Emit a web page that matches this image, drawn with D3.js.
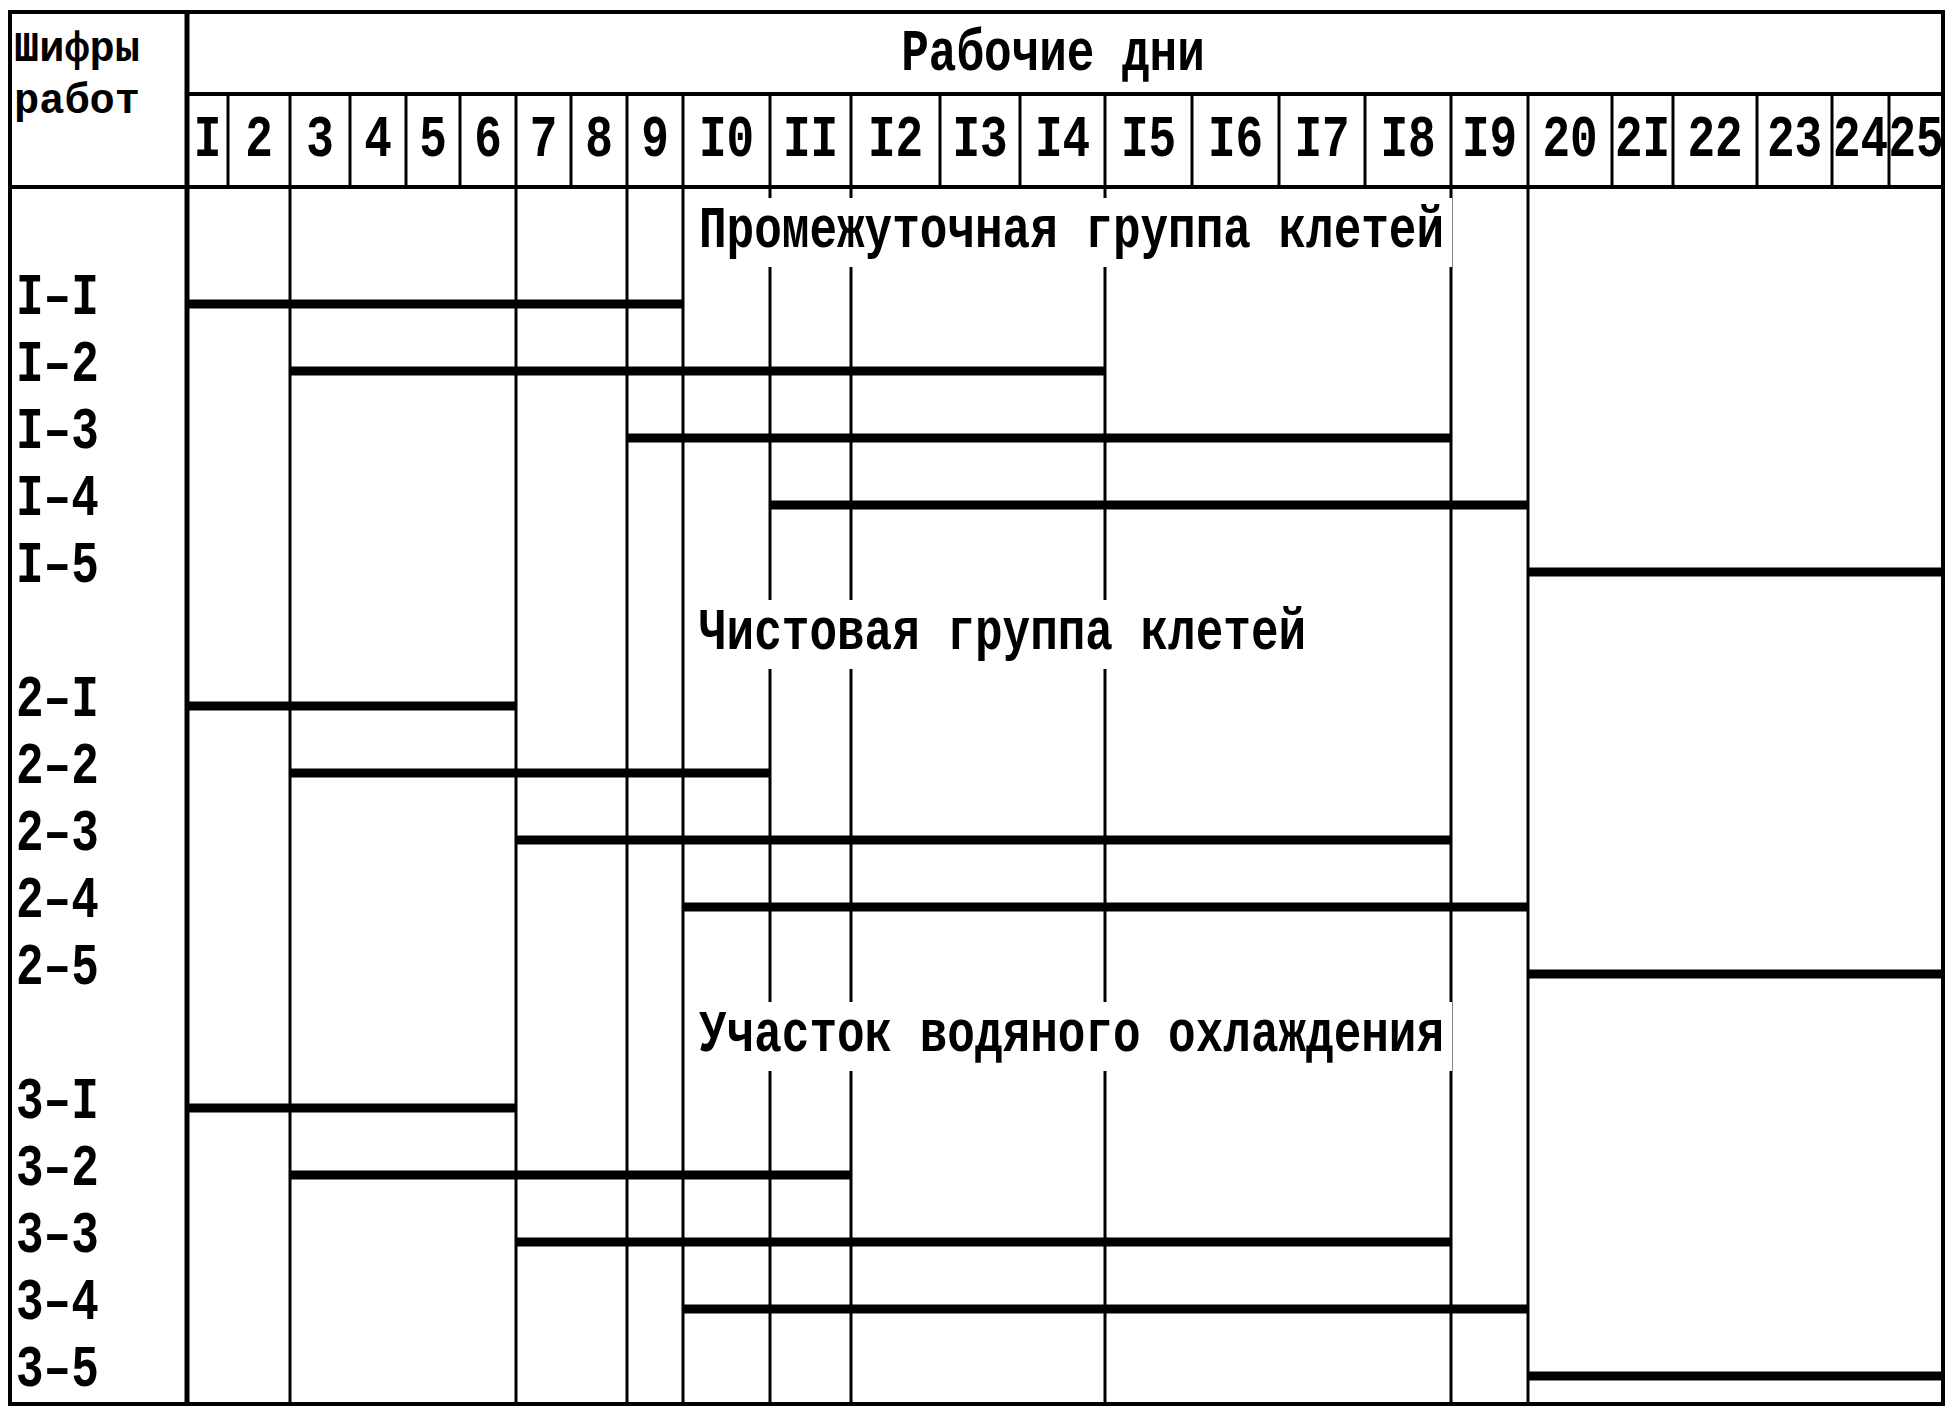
<!DOCTYPE html>
<html>
<head>
<meta charset="utf-8">
<script src="https://cdn.jsdelivr.net/npm/d3@7"></script>
<style>
  body { margin: 0; background: #fff; }
  text { font-family: "Liberation Mono", "Courier New", monospace; font-weight: bold; fill: #000; }
</style>
</head>
<body>
<div id="chart"></div>
<script>
// Page size
var w = 1957;
var h = 1417;

// Data: day labels, groups and tasks
var days = ["I", "2", "3", "4", "5", "6", "7", "8", "9", "I0", "II", "I2", "I3", "I4",
            "I5", "I6", "I7", "I8", "I9", "20", "2I", "22", "23", "24", "25"];
var groups = ["Промежуточная группа клетей", "Чистовая группа клетей", "Участок водяного охлаждения"];
var taskCodes = ["I–I", "I–2", "I–3", "I–4", "I–5",
                 "2–I", "2–2", "2–3", "2–4", "2–5",
                 "3–I", "3–2", "3–3", "3–4", "3–5"];
var taskGroup = [0, 0, 0, 0, 0, 1, 1, 1, 1, 1, 2, 2, 2, 2, 2];
var taskStart = [0, 2, 8, 10, 19, 0, 2, 6, 9, 19, 0, 2, 6, 9, 19];
var taskEnd   = [9, 14, 18, 19, 25, 6, 10, 18, 19, 25, 6, 11, 18, 19, 25];

// Layout: the day columns are of uneven width, as on the typed original
var dayEdges = [187, 228, 290, 350, 406, 460, 516, 571, 627, 683, 770, 851, 940, 1020,
                1105, 1192, 1279, 1365, 1451, 1528, 1612, 1673, 1757, 1832, 1889, 1943];
var frameLeft = 10, frameRight = 1943, frameTop = 12, midLine = 94, headBottom = 187, frameBottom = 1404;
var fontSize = 46, stretch = 1.3;

// Rows: a title row, then the tasks of that group
var rows = [];
groups.forEach(function (g, gi) {
    rows.push("g" + gi);
    taskCodes.forEach(function (c, i) { if (taskGroup[i] === gi) rows.push(c); });
});

// Scales
var xScale = d3.scaleLinear()
    .domain(d3.range(dayEdges.length))
    .range(dayEdges);

var yScale = d3.scalePoint()
    .domain(rows)
    .range([231, 1370]);

var svg = d3.select("#chart")
    .append("svg")
    .attr("width", w)
    .attr("height", h);

// Text helper: typewriter letters are taller than Courier, so stretch vertically
function label(parent, x, y, str, anchor, sy, size) {
    var g = parent.append("g").attr("transform", "translate(" + x + "," + y + ")");
    g.append("text")
        .attr("transform", "scale(1," + (sy || stretch) + ")")
        .attr("text-anchor", anchor || "start")
        .attr("dominant-baseline", "central")
        .style("font-size", (size || fontSize) + "px")
        .text(str);
    return g;
}

// Vertical lines in the body at every start/end day
var marks = Array.from(new Set(taskStart.concat(taskEnd))).sort(d3.ascending);
svg.selectAll(".vline")
    .data(marks)
    .enter()
    .append("line")
    .attr("class", "vline")
    .attr("x1", function (d) { return xScale(d); })
    .attr("x2", function (d) { return xScale(d); })
    .attr("y1", headBottom)
    .attr("y2", frameBottom)
    .attr("stroke", "#000")
    .attr("stroke-width", 3);

// Group titles, with white boxes that break the grid lines
groups.forEach(function (g, gi) {
    var y = yScale("g" + gi);
    var t = label(svg, xScale(9) + 16, y, g);
    var bb = t.node().getBBox();
    t.insert("rect", "text")
        .attr("x", bb.x - 8)
        .attr("y", -33)
        .attr("width", bb.width + 16)
        .attr("height", 69)
        .attr("fill", "#fff");
});

// Task bars
svg.selectAll(".bar")
    .data(taskCodes)
    .enter()
    .append("line")
    .attr("class", "bar")
    .attr("x1", function (d, i) { return xScale(taskStart[i]); })
    .attr("x2", function (d, i) { return xScale(taskEnd[i]); })
    .attr("y1", function (d) { return yScale(d) + 6; })
    .attr("y2", function (d) { return yScale(d) + 6; })
    .attr("stroke", "#000")
    .attr("stroke-width", 9);

// Task codes
taskCodes.forEach(function (c) {
    label(svg, 16, yScale(c), c);
});

// Header: day separators and numbers
svg.selectAll(".dayline")
    .data(d3.range(1, days.length))
    .enter()
    .append("line")
    .attr("class", "dayline")
    .attr("x1", function (d) { return xScale(d); })
    .attr("x2", function (d) { return xScale(d); })
    .attr("y1", midLine)
    .attr("y2", headBottom)
    .attr("stroke", "#000")
    .attr("stroke-width", 3);

days.forEach(function (d, i) {
    label(svg, (xScale(i) + xScale(i + 1)) / 2, 140, d, "middle");
});

label(svg, (xScale(0) + xScale(days.length)) / 2 - 12, 54, "Рабочие дни", "middle");
label(svg, 14, 50, "Шифры", "start", 1.0, 42);
label(svg, 14, 102, "работ", "start", 1.0, 42);

// Frame
var frame = svg.append("g").attr("stroke", "#000").attr("stroke-width", 4);
frame.append("rect")
    .attr("x", frameLeft).attr("y", frameTop)
    .attr("width", frameRight - frameLeft).attr("height", frameBottom - frameTop)
    .attr("fill", "none");
frame.append("line").attr("x1", xScale(0)).attr("x2", xScale(0)).attr("y1", frameTop).attr("y2", frameBottom).attr("stroke-width", 5);
frame.append("line").attr("x1", xScale(0)).attr("x2", frameRight).attr("y1", midLine).attr("y2", midLine);
frame.append("line").attr("x1", frameLeft).attr("x2", frameRight).attr("y1", headBottom).attr("y2", headBottom);
</script>
</body>
</html>
